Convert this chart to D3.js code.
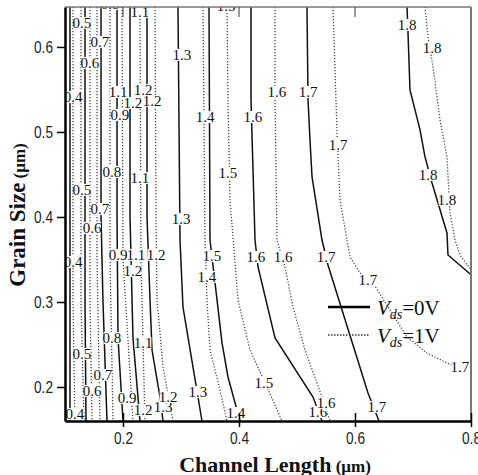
<!DOCTYPE html>
<html><head><meta charset="utf-8">
<script src="https://cdn.jsdelivr.net/npm/d3@7"></script>
<style>body{margin:0;background:#fff}</style>
</head><body><svg id="c" width="478" height="475"></svg>
<script>
// ---- data ----
const xDomain = [0.1, 0.8];
const yDomain = [0.16, 0.647];
const xTicks = [0.2, 0.4, 0.6, 0.8];
const yTicks = [0.2, 0.3, 0.4, 0.5, 0.6];

// Vds = 0 V contours (solid)
const contours0V = [
  {level:0.4, pts:[[0.1086,0.647],[0.1086,0.16]]},
  {level:0.5, pts:[[0.1345,0.647],[0.1345,0.30],[0.1362,0.16]]},
  {level:0.7, pts:[[0.1621,0.647],[0.1621,0.40],[0.1655,0.30],[0.1724,0.16]]},
  {level:0.8, pts:[[0.1897,0.647],[0.1897,0.40],[0.1914,0.2576],[0.2,0.16]]},
  {level:1.0, pts:[[0.2121,0.647],[0.2121,0.40],[0.2172,0.2576],[0.2293,0.16]]},
  {level:1.1, pts:[[0.2414,0.647],[0.2414,0.40],[0.2466,0.3024],[0.25,0.2435],[0.2638,0.1882],[0.2690,0.16]]},
  {level:1.3, pts:[[0.2948,0.647],[0.2983,0.3729],[0.3034,0.2941],[0.3207,0.2235],[0.3362,0.16]]},
  {level:1.4, pts:[[0.3483,0.647],[0.35,0.3729],[0.3621,0.3024],[0.3707,0.2518],[0.3810,0.2118],[0.4017,0.16]]},
  {level:1.6, pts:[[0.4207,0.647],[0.4207,0.5376],[0.4276,0.3729],[0.4328,0.3412],[0.4621,0.2576],[0.5276,0.1882],[0.5431,0.16]]},
  {level:1.7, pts:[[0.5172,0.647],[0.5190,0.5376],[0.5224,0.4906],[0.5259,0.4471],[0.5431,0.3729],[0.5534,0.3435],[0.6224,0.1929],[0.6414,0.16]]},
  {level:1.8, pts:[[0.6897,0.647],[0.6914,0.6165],[0.6948,0.5494],[0.7121,0.5024],[0.7207,0.4706],[0.7328,0.44],[0.7586,0.3812],[0.7603,0.3553],[0.8,0.332]]}
];

// Vds = 1 V contours (dotted)
const contours1V = [
  {level:0.4, pts:[[0.1138,0.647],[0.1138,0.30],[0.1172,0.16]]},
  {level:0.5, pts:[[0.1276,0.647],[0.1276,0.30],[0.1328,0.16]]},
  {level:0.6, pts:[[0.1431,0.647],[0.1431,0.30],[0.1466,0.16]]},
  {level:0.7, pts:[[0.1552,0.647],[0.1552,0.35],[0.1603,0.16]]},
  {level:0.8, pts:[[0.1776,0.647],[0.1776,0.35],[0.1828,0.16]]},
  {level:0.9, pts:[[0.1983,0.647],[0.2,0.35],[0.2172,0.16]]},
  {level:1.1, pts:[[0.2293,0.647],[0.2310,0.35],[0.2379,0.16]]},
  {level:1.2, pts:[[0.2552,0.647],[0.2569,0.40],[0.2586,0.3024],[0.2690,0.2235],[0.2862,0.16]]},
  {level:1.4, pts:[[0.3379,0.647],[0.3414,0.3729],[0.3448,0.3024],[0.35,0.2435],[0.3672,0.1965],[0.3793,0.16]]},
  {level:1.5, pts:[[0.3793,0.647],[0.3810,0.5376],[0.3845,0.42],[0.3983,0.3024],[0.4190,0.2435],[0.4483,0.2],[0.4741,0.16]]},
  {level:1.6, pts:[[0.4621,0.647],[0.4621,0.5376],[0.4655,0.3729],[0.4793,0.3412],[0.4931,0.2941],[0.5138,0.2435],[0.5431,0.1882],[0.5569,0.16]]},
  {level:1.7, pts:[[0.5621,0.647],[0.5690,0.4988],[0.5741,0.42],[0.5862,0.3729],[0.5914,0.3529],[0.6086,0.3341],[0.6310,0.3224],[0.6897,0.2588],[0.7241,0.24],[0.7586,0.2282],[0.8,0.2165]]},
  {level:1.8, pts:[[0.7207,0.647],[0.7259,0.6118],[0.7345,0.5765],[0.7466,0.5141],[0.7586,0.4706],[0.7638,0.4047],[0.7724,0.3729],[0.7810,0.3553],[0.8,0.3376]]}
];

// contour labels: [text, x, y]
const contourLabels = [
  ["0.8",0.1776,0.6506],["1.1",0.2293,0.6412],["1.5",0.3776,0.6482],
  ["0.5",0.1293,0.6282],["0.7",0.1603,0.6059],["0.6",0.1431,0.5812],["0.4",0.1138,0.5412],
  ["1.1",0.1914,0.5471],["1.2",0.2345,0.5494],["1.2",0.2172,0.5341],["1.2",0.2500,0.5365],["0.9",0.1948,0.52],
  ["1.3",0.3017,0.5906],["1.4",0.3414,0.5176],["1.5",0.381,0.4518],
  ["1.6",0.4241,0.5176],["1.6",0.4655,0.5471],["1.7",0.519,0.5471],["1.7",0.5707,0.4847],
  ["1.8",0.6897,0.6259],["1.8",0.7328,0.5988],["1.8",0.7259,0.4494],["1.8",0.7586,0.42],
  ["0.8",0.181,0.4529],["1.1",0.2293,0.4459],["0.5",0.1293,0.4318],["0.7",0.1603,0.4094],["0.6",0.1466,0.3871],
  ["0.4",0.1138,0.3471],["0.9",0.1914,0.3553],["1.1",0.2224,0.3553],["1.2",0.2569,0.3553],["1.2",0.2172,0.3365],
  ["1.3",0.3,0.3976],["1.5",0.3534,0.3541],["1.4",0.3448,0.3294],
  ["1.6",0.4293,0.3529],["1.6",0.4759,0.3529],["1.7",0.55,0.3529],["1.7",0.6224,0.3259],["1.7",0.781,0.2235],
  ["0.8",0.181,0.2576],["1.1",0.2345,0.2518],["0.5",0.1293,0.2388],["0.7",0.1655,0.2141],["0.6",0.1466,0.1953],
  ["0.4",0.1172,0.1682],["0.9",0.2069,0.1871],["1.3",0.269,0.1765],["1.2",0.2345,0.1729],["1.2",0.2776,0.1882],
  ["1.3",0.3293,0.1941],["1.4",0.3948,0.1694],["1.5",0.4431,0.2047],
  ["1.6",0.5362,0.1706],["1.6",0.55,0.1812],["1.7",0.6379,0.1765]
];

const legendItems = [{v:"0", dotted:false},{v:"1", dotted:true}];

// ---- drawing ----
const svg = d3.select("#c");
const L=65, R=471, T=7, B=421;
const x = d3.scaleLinear(xDomain, [L, R]);
const y = d3.scaleLinear(yDomain, [B, T]);

svg.append("defs").append("clipPath").attr("id","pc")
  .append("rect").attr("x",L).attr("y",T).attr("width",R-L).attr("height",B-T);

const plot = svg.append("g").attr("clip-path","url(#pc)");
const line = d3.line().x(d=>x(d[0])).y(d=>y(d[1]));

plot.selectAll("path.d1").data(contours1V).join("path")
  .attr("class","d1").attr("d",d=>line(d.pts))
  .attr("fill","none").attr("stroke","#444").attr("stroke-width",1.3)
  .attr("stroke-dasharray","1.2 1.8");
plot.selectAll("path.d0").data(contours0V).join("path")
  .attr("class","d0").attr("d",d=>line(d.pts))
  .attr("fill","none").attr("stroke","#111").attr("stroke-width",1.5);

const lg = plot.selectAll("g.lab").data(contourLabels).join("g").attr("class","lab");
lg.each(function(d){
  const g = d3.select(this);
  const t = g.append("text").attr("x",x(d[1])).attr("y",y(d[2])+5)
    .attr("text-anchor","middle").attr("font-family","Liberation Serif, Times New Roman, serif")
    .attr("font-size",15).attr("fill","#111").text(d[0]);
  const bb = t.node().getBBox();
  g.insert("rect","text").attr("x",bb.x+1).attr("y",y(d[2])-6).attr("width",bb.width-2).attr("height",12).attr("fill","#fff");
});

// frame
svg.append("line").attr("x1",L).attr("x2",R).attr("y1",T).attr("y2",T).attr("stroke","#777").attr("stroke-width",1.5);
svg.append("line").attr("x1",R).attr("x2",R).attr("y1",T).attr("y2",B).attr("stroke","#777").attr("stroke-width",2);

// axes
const tickFont = "Liberation Sans, Arial, sans-serif";
const xAxis = svg.append("g").attr("transform",`translate(0,${B})`)
  .call(d3.axisBottom(x).tickValues(xTicks).tickFormat(d3.format(".1f")).tickSizeInner(6).tickSizeOuter(0));
xAxis.select(".domain").attr("stroke","#000").attr("stroke-width",2.5);
xAxis.selectAll(".tick line").attr("y1",-8).attr("y2",6).attr("stroke","#000").attr("stroke-width",1.5);
xAxis.selectAll(".tick text").attr("y",12).attr("font-family",tickFont)
  .attr("font-size",16).attr("fill","#222").attr("textLength",19).attr("lengthAdjust","spacingAndGlyphs");

const yAxis = svg.append("g").attr("transform",`translate(${L},0)`)
  .call(d3.axisLeft(y).tickValues(yTicks).tickFormat(d3.format(".1f")).tickSizeInner(8).tickSizeOuter(0));
yAxis.select(".domain").attr("stroke","#000").attr("stroke-width",2.5);
yAxis.selectAll(".tick line").attr("stroke","#000").attr("stroke-width",1.5);
yAxis.selectAll(".tick text").attr("x",-12).attr("font-family",tickFont)
  .attr("font-size",16).attr("fill","#222").attr("textLength",19).attr("lengthAdjust","spacingAndGlyphs");

// top ticks
svg.append("g").selectAll("line").data(xTicks.slice(0,3)).join("line")
  .attr("x1",d=>x(d)).attr("x2",d=>x(d)).attr("y1",T).attr("y2",T+10).attr("stroke","#555").attr("stroke-width",1.2);

// titles
const xt = svg.append("text").attr("x",275).attr("y",472).attr("text-anchor","middle")
  .attr("font-family","Liberation Serif, Times New Roman, serif").attr("font-weight","bold").attr("fill","#111");
xt.append("tspan").attr("font-size",22).text("Channel Length");
xt.append("tspan").attr("font-size",17).text(" (\u03bcm)");

const yt = svg.append("text").attr("transform","translate(25,215) rotate(-90)").attr("text-anchor","middle")
  .attr("font-family","Liberation Serif, Times New Roman, serif").attr("font-weight","bold").attr("fill","#111");
yt.append("tspan").attr("font-size",23).text("Grain Size");
yt.append("tspan").attr("font-size",17).text(" (\u03bcm)");

// legend
const leg = svg.append("g");
legendItems.forEach((it,i)=>{
  const yy = 307 + i*28;
  leg.append("line").attr("x1",328).attr("x2",370).attr("y1",yy).attr("y2",yy)
    .attr("stroke", it.dotted? "#333":"#000").attr("stroke-width", it.dotted?1.5:2.5)
    .attr("stroke-dasharray", it.dotted? "1.5 1.5": null);
  const t = leg.append("text").attr("x",377).attr("y",yy+8)
    .attr("font-family","Liberation Serif, Times New Roman, serif").attr("font-size",21).attr("fill","#111");
  t.append("tspan").attr("font-style","italic").text("V");
  t.append("tspan").attr("font-style","italic").attr("font-size",14).attr("dy",4).text("ds");
  t.append("tspan").attr("dy",-4).text("=" + it.v + "V");
});
</script></body></html>
